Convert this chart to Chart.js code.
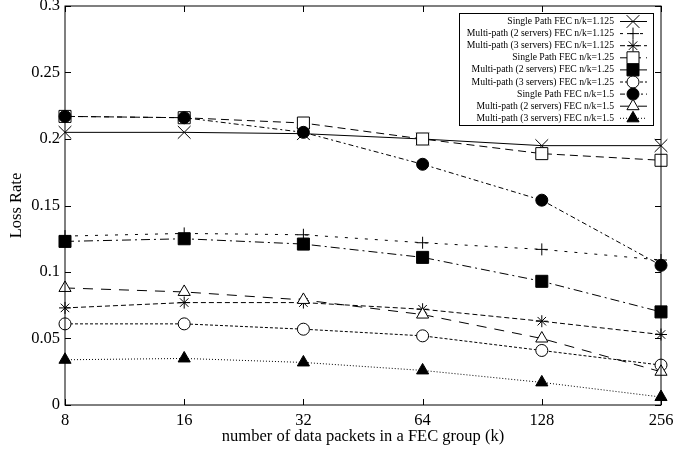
<!DOCTYPE html>
<html lang="en">
<head>
    <meta charset="UTF-8">
    <title>Loss Rate vs FEC group size</title>
    <script src="https://cdn.jsdelivr.net/npm/chart.js"></script>
    <style>
        html, body { margin: 0; padding: 0; background: #fff; }
    </style>
</head>
<body>
    <canvas id="lossChart" width="676" height="455"></canvas>

    <script>
        // x categories (k) and y ticks
        const groupSizes = ["8", "16", "32", "64", "128", "256"];
        const yTickValues = [0, 0.05, 0.1, 0.15, 0.2, 0.25, 0.3];

        // loss rate per series
        const singleFec1125 = [0.205, 0.205, 0.204, 0.200, 0.195, 0.195];
        const multi2Fec1125 = [0.127, 0.129, 0.128, 0.122, 0.117, 0.109];
        const multi3Fec1125 = [0.073, 0.077, 0.077, 0.072, 0.063, 0.053];
        const singleFec125  = [0.217, 0.216, 0.212, 0.200, 0.189, 0.184];
        const multi2Fec125  = [0.123, 0.125, 0.121, 0.111, 0.093, 0.070];
        const multi3Fec125  = [0.061, 0.061, 0.057, 0.052, 0.041, 0.030];
        const singleFec15   = [0.217, 0.216, 0.205, 0.181, 0.154, 0.105];
        const multi2Fec15   = [0.088, 0.085, 0.079, 0.068, 0.050, 0.025];
        const multi3Fec15   = [0.034, 0.035, 0.032, 0.026, 0.017, 0.006];

        const seriesNames = [
            "Single Path FEC n/k=1.125",
            "Multi-path (2 servers) FEC n/k=1.125",
            "Multi-path (3 servers) FEC n/k=1.125",
            "Single Path FEC n/k=1.25",
            "Multi-path (2 servers) FEC n/k=1.25",
            "Multi-path (3 servers) FEC n/k=1.25",
            "Single Path FEC n/k=1.5",
            "Multi-path (2 servers) FEC n/k=1.5",
            "Multi-path (3 servers) FEC n/k=1.5"
        ];
        const seriesValues = [singleFec1125, multi2Fec1125, multi3Fec1125,
                              singleFec125, multi2Fec125, multi3Fec125,
                              singleFec15, multi2Fec15, multi3Fec15];

        // marker / dash look for each series (gnuplot-ish)
        const styles = [
            { point: "crossRot", r: 9,   fill: "#000", dash: [] },
            { point: "cross",    r: 6,   fill: "#000", dash: [3, 7] },
            { point: "star",     r: 6,   fill: "#000", dash: [5, 3] },
            { point: "rect",     r: 8.5, fill: "#fff", dash: [8, 5] },
            { point: "rect",     r: 8.5, fill: "#000", dash: [9, 4, 2, 4] },
            { point: "circle",   r: 6,   fill: "#fff", dash: [3, 2] },
            { point: "circle",   r: 6,   fill: "#000", dash: [5, 3, 2, 3] },
            { point: "triangle", r: 7,   fill: "#fff", dash: [10, 8] },
            { point: "triangle", r: 7,   fill: "#000", dash: [1, 2] }
        ];

        const serif = "'Liberation Serif', 'DejaVu Serif', serif";

        let datasets = seriesNames.map((name, i) => ({
            label: name,
            data: seriesValues[i],
            borderColor: "#000",
            borderWidth: 1,
            borderDash: styles[i].dash,
            pointStyle: styles[i].point,
            pointRadius: styles[i].r,
            pointHoverRadius: styles[i].r,
            pointBorderColor: "#000",
            pointBackgroundColor: styles[i].fill,
            pointBorderWidth: 1,
            fill: false,
            tension: 0,
            clip: false,
            order: seriesNames.length - i   // later series on top, like gnuplot
        }));

        // frame with inward ticks + the boxed key in the top right
        const frameAndKey = {
            id: "frameAndKey",
            afterDatasetsDraw(chart) {
                let ctx = chart.ctx;
                let a = chart.chartArea;
                let x = chart.scales.x, y = chart.scales.y;
                ctx.save();
                ctx.strokeStyle = "#000";
                ctx.lineWidth = 1;
                ctx.setLineDash([]);
                ctx.strokeRect(a.left, a.top, a.right - a.left, a.bottom - a.top);
                ctx.beginPath();
                y.ticks.forEach(t => {
                    let py = Math.round(y.getPixelForValue(t.value)) + 0.5;
                    ctx.moveTo(a.left, py);  ctx.lineTo(a.left + 6, py);
                    ctx.moveTo(a.right, py); ctx.lineTo(a.right - 6, py);
                });
                x.ticks.forEach((t, i) => {
                    let px = Math.round(x.getPixelForTick(i)) + 0.5;
                    ctx.moveTo(px, a.bottom); ctx.lineTo(px, a.bottom - 6);
                    ctx.moveTo(px, a.top);    ctx.lineTo(px, a.top + 6);
                });
                ctx.stroke();

                // key
                const box = { left: 459.5, top: 13.5, right: 653.5, bottom: 125.5 };
                ctx.fillStyle = "#fff";
                ctx.fillRect(box.left, box.top, box.right - box.left, box.bottom - box.top);
                ctx.strokeRect(box.left, box.top, box.right - box.left, box.bottom - box.top);

                ctx.font = "9.7px " + serif;
                ctx.textAlign = "right";
                ctx.textBaseline = "middle";
                let drawPoint = Chart.helpers && Chart.helpers.drawPoint;
                chart.data.datasets.forEach((ds, i) => {
                    let ry = box.top + 8 + i * 12.1;
                    ctx.fillStyle = "#000";
                    ctx.fillText(ds.label, 614, ry);
                    ctx.setLineDash(ds.borderDash);
                    ctx.beginPath();
                    ctx.moveTo(620, ry); ctx.lineTo(647, ry);
                    ctx.stroke();
                    ctx.setLineDash([]);
                    if (drawPoint) {
                        ctx.fillStyle = ds.pointBackgroundColor;
                        ctx.strokeStyle = "#000";
                        drawPoint(ctx, { pointStyle: ds.pointStyle, radius: ds.pointRadius, rotation: 0, borderWidth: 1 }, 633, ry);
                    }
                });
                ctx.restore();
            }
        };

        let ctx = document.getElementById("lossChart").getContext("2d");
        new Chart(ctx, {
            type: "line",
            data: { labels: groupSizes, datasets: datasets },
            options: {
                responsive: false,
                animation: false,
                devicePixelRatio: 1,
                layout: { autoPadding: false, padding: { top: 6, right: 15, left: 0, bottom: 0 } },
                plugins: { legend: { display: false }, tooltip: { enabled: false } },
                scales: {
                    x: {
                        type: "category",
                        offset: false,
                        grid: { display: false, drawTicks: false },
                        border: { display: false },
                        ticks: { color: "#000", padding: 6, font: { family: serif, size: 16.5 }, maxRotation: 0 },
                        title: {
                            display: true,
                            text: "number of data packets in a FEC group (k)",
                            color: "#000",
                            font: { family: serif, size: 16.5 },
                            padding: { top: 0, bottom: 8 }
                        },
                        afterFit(scale) {
                            scale.height = 50;
                            scale.paddingLeft = 0;
                            scale.paddingRight = 0;
                        }
                    },
                    y: {
                        min: 0,
                        max: 0.3,
                        grid: { display: false, drawTicks: false },
                        border: { display: false },
                        afterBuildTicks(scale) {
                            scale.ticks = yTickValues.map(v => ({ value: v }));
                        },
                        ticks: {
                            color: "#000",
                            padding: 5,
                            font: { family: serif, size: 16.5 },
                            callback: v => String(parseFloat(v.toFixed(2)))
                        },
                        title: {
                            display: true,
                            text: "Loss Rate",
                            color: "#000",
                            font: { family: serif, size: 16.5 },
                            padding: { top: 7, bottom: 0 }
                        },
                        afterFit(scale) {
                            scale.width = 65;
                            scale.paddingTop = 0;
                            scale.paddingBottom = 0;
                        }
                    }
                }
            },
            plugins: [frameAndKey]
        });
    </script>
</body>
</html>
